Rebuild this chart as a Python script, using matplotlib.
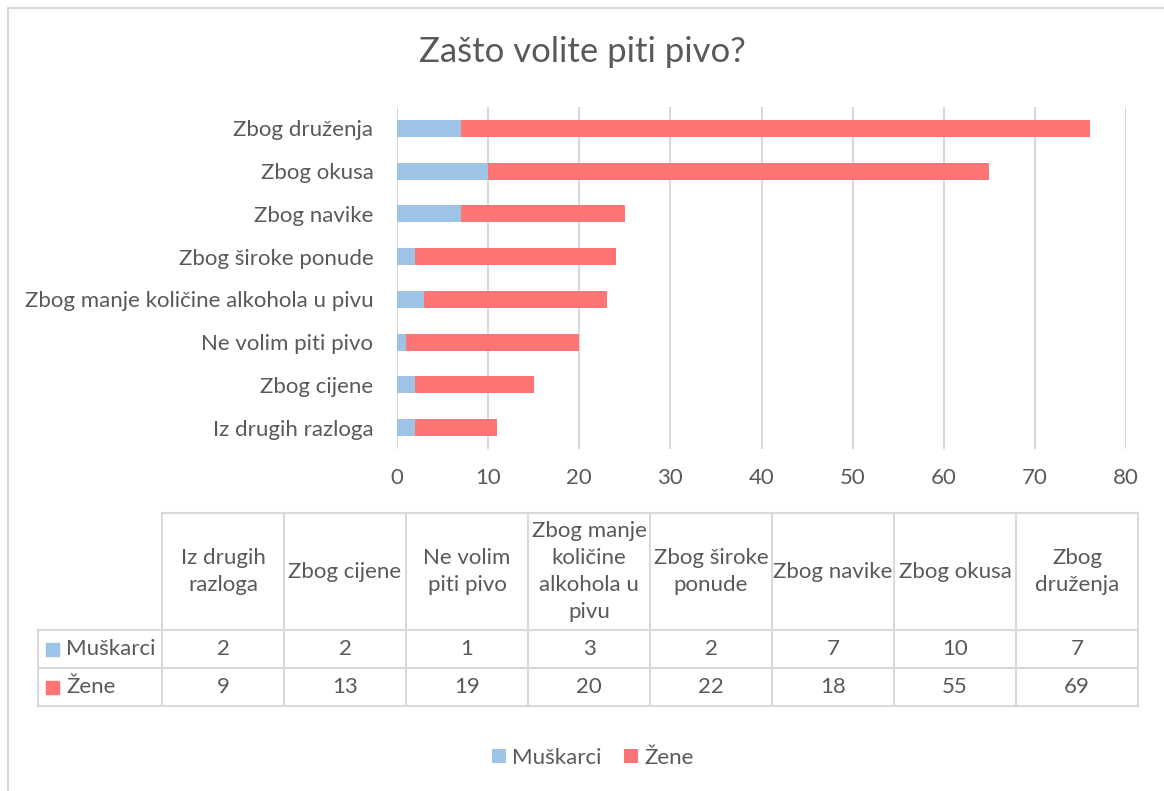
import matplotlib
matplotlib.use("Agg")
import matplotlib.pyplot as plt
from matplotlib.lines import Line2D

plt.rcParams['font.family'] = ['Lato', 'DejaVu Sans']

# data, bottom to top (same order as the table columns)
categories = ["Iz drugih razloga", "Zbog cijene", "Ne volim piti pivo",
              "Zbog manje količine alkohola u pivu", "Zbog široke ponude",
              "Zbog navike", "Zbog okusa", "Zbog druženja"]
table_headers = ["Iz drugih\nrazloga", "Zbog cijene", "Ne volim\npiti pivo",
                 "Zbog manje\nkoličine\nalkohola u\npivu", "Zbog široke\nponude",
                 "Zbog navike", "Zbog okusa", "Zbog\ndruženja"]
muskarci = [2, 2, 1, 3, 2, 7, 10, 7]
zene = [9, 13, 19, 20, 22, 18, 55, 69]
series_names = ["Muškarci", "Žene"]
x_ticks = [0, 10, 20, 30, 40, 50, 60, 70, 80]

BLUE = "#9DC3E6"
RED = "#FF7575"
TXT = "#595959"
GRID = "#D9D9D9"
FS = 16

W, H = 1164, 791
fig = plt.figure(figsize=(W / 100, H / 100), dpi=100)


def fx(px):
    return px / W


def fy(py):
    return 1 - py / H


def fig_line(x0, y0, x1, y1, lw=1.5):
    fig.add_artist(Line2D([fx(x0), fx(x1)], [fy(y0), fy(y1)],
                          transform=fig.transFigure, color=GRID, lw=lw))


# chart border (top and left visible)
fig_line(8, 8, W, 8)
fig_line(8, 8, 8, H)

fig.text(0.5, fy(52), "Zašto volite piti pivo?", ha='center', va='center',
         fontsize=25, color=TXT)

ax = fig.add_axes([fx(397), fy(449), fx(1126) - fx(397), fy(107) - fy(449)])
ypos = list(range(len(categories)))
b1 = ax.barh(ypos, muskarci, height=0.4, color=BLUE, label=series_names[0], zorder=3)
b2 = ax.barh(ypos, zene, left=muskarci, height=0.4, color=RED, label=series_names[1], zorder=3)
ax.set_ylim(-0.5, len(categories) - 0.5)
ax.set_xlim(0, 80)
ax.set_xticks(x_ticks)
ax.set_yticks(ypos)
ax.set_yticklabels(categories)
ax.tick_params(axis='both', length=0, labelsize=FS, labelcolor=TXT)
ax.tick_params(axis='x', pad=14)
ax.tick_params(axis='y', pad=17)
ax.xaxis.grid(True, color=GRID, lw=1.5, zorder=0)
for s in ax.spines.values():
    s.set_visible(False)

# data table under the chart
col_edges = [162 + 122 * i for i in range(len(categories) + 1)]
col_edges[-1] = 1138
head_top, head_bot = 513, 630
row_edges = [630, 668, 706]
left_col = 38

fig_line(col_edges[0], head_top, col_edges[-1], head_top)
for r in row_edges:
    fig_line(left_col, r, col_edges[-1], r)
for c in col_edges:
    fig_line(c, head_top, c, row_edges[-1])
fig_line(left_col, row_edges[0], left_col, row_edges[-1])

for i, lab in enumerate(table_headers):
    cx = (col_edges[i] + col_edges[i + 1]) / 2
    fig.text(fx(cx), fy((head_top + head_bot) / 2), lab, ha='center', va='center',
             fontsize=FS, color=TXT, linespacing=1.45)

for r, (name, vals, col) in enumerate(zip(series_names, [muskarci, zene], [BLUE, RED])):
    cy = (row_edges[r] + row_edges[r + 1]) / 2
    fig.patches.append(plt.Rectangle((fx(46), fy(cy + 6.5)), fx(13), fy(0) - fy(13),
                                     transform=fig.transFigure, color=col, figure=fig))
    fig.text(fx(66), fy(cy), name, ha='left', va='center', fontsize=FS, color=TXT)
    for i, v in enumerate(vals):
        cx = (col_edges[i] + col_edges[i + 1]) / 2
        fig.text(fx(cx), fy(cy), str(v), ha='center', va='center', fontsize=FS, color=TXT)

fig.legend(handles=[b1, b2], labels=series_names, loc='center', ncol=2,
           bbox_to_anchor=(fx(593), fy(758)), frameon=False, fontsize=FS,
           labelcolor=TXT, handlelength=0.6, handleheight=0.6, handletextpad=0.3,
           columnspacing=1.0)

fig.savefig("out.png", dpi=100)
